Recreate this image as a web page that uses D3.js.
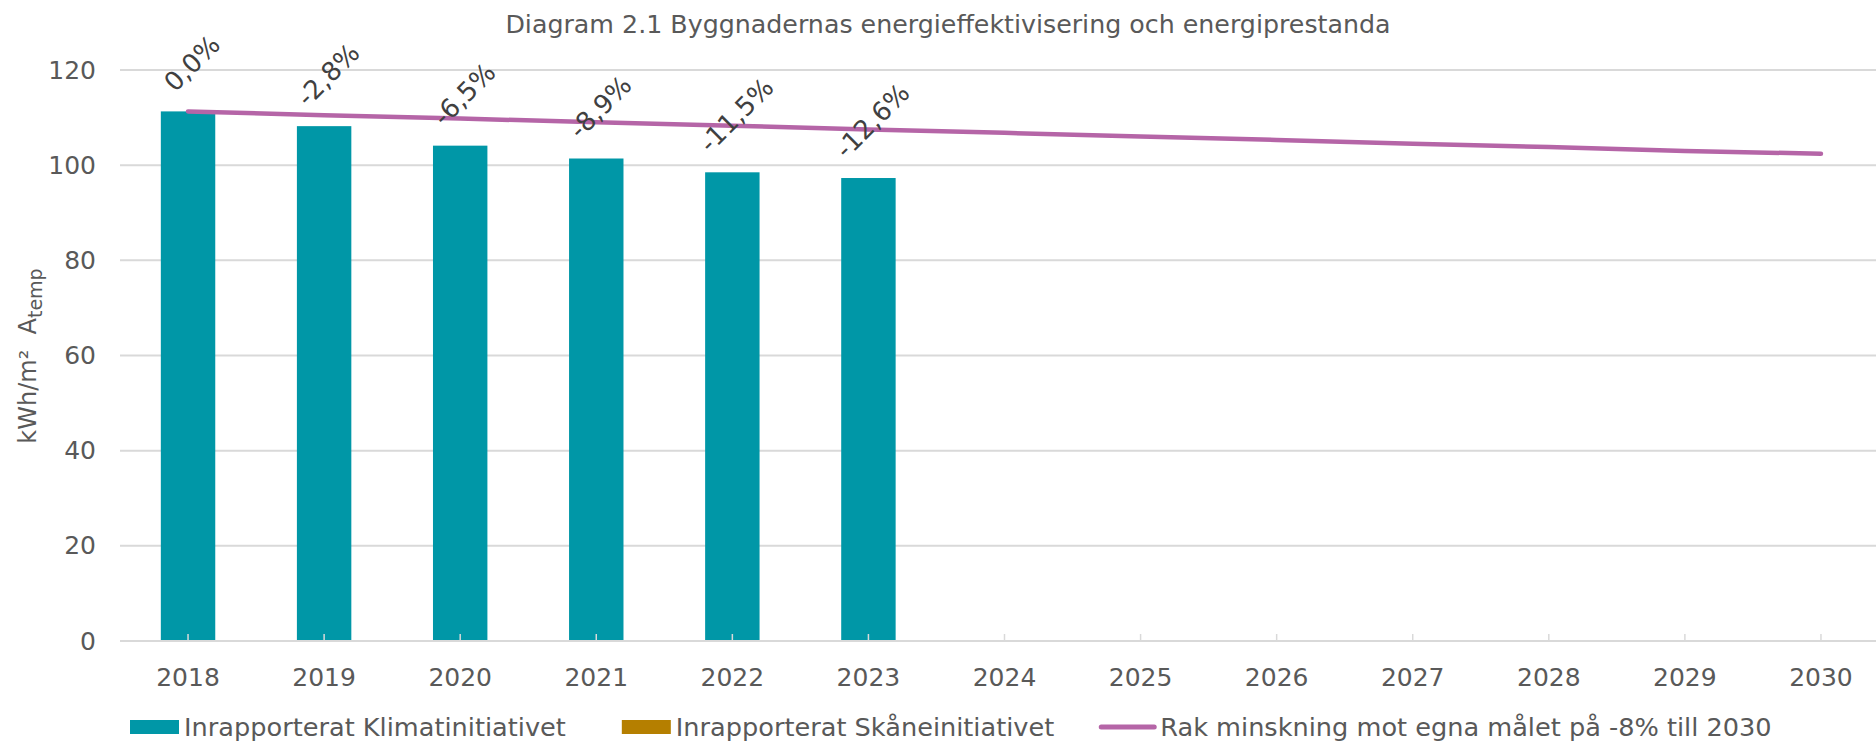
<!DOCTYPE html>
<html>
<head>
<meta charset="utf-8">
<script src="https://cdn.jsdelivr.net/npm/d3@7"></script>
<style>
	body { margin: 0; background: #ffffff; }
	text { font-family: "DejaVu Sans", Verdana, sans-serif; }
</style>
</head>
<body>
<script>
var years = ["2018", "2019", "2020", "2021", "2022", "2023", "2024", "2025", "2026", "2027", "2028", "2029", "2030"];
var klimatValues = [111.3, 108.2, 104.1, 101.4, 98.5, 97.3];
var skaneValues = [];
var targetLine = [111.3, 110.5, 109.8, 109.0, 108.3, 107.5, 106.8, 106.0, 105.3, 104.5, 103.8, 103.0, 102.4];
var changeLabels = ["0,0%", "-2,8%", "-6,5%", "-8,9%", "-11,5%", "-12,6%"];
var yTicks = [0, 20, 40, 60, 80, 100, 120];
var seriesNames = ["Inrapporterat Klimatinitiativet", "Inrapporterat Skåneinitiativet", "Rak minskning mot egna målet på -8% till 2030"];

var W = 1876, H = 742;
var margin = { top: 70, right: -13, bottom: 101, left: 120 };
var width = W - margin.left - margin.right,
	height = H - margin.top - margin.bottom;

var tealColor = "#0097a7",
	ochreColor = "#b57f00",
	purpleColor = "#b565a7",
	gridColor = "#d9d9d9",
	textColor = "#595959";

var svg = d3.select("body").append("svg")
	.attr("width", W)
	.attr("height", H);

var g = svg.append("g")
	.attr("transform", "translate(" + margin.left + "," + margin.top + ")");

var xScale = d3.scaleBand()
	.domain(years)
	.range([0, width])
	.paddingInner(0)
	.paddingOuter(0);

var yScale = d3.scaleLinear()
	.domain([0, 120])
	.range([height, 0]);

// title
svg.append("text")
	.attr("x", 948)
	.attr("y", 33)
	.attr("text-anchor", "middle")
	.attr("fill", textColor)
	.style("font-size", "25.3px")
	.text("Diagram 2.1 Byggnadernas energieffektivisering och energiprestanda");

// gridlines
g.selectAll(".grid")
	.data(yTicks)
	.enter().append("line")
	.attr("class", "grid")
	.attr("x1", 0)
	.attr("x2", width)
	.attr("y1", function(d) { return yScale(d); })
	.attr("y2", function(d) { return yScale(d); })
	.attr("stroke", gridColor)
	.attr("stroke-width", 2);

// y axis labels
var yAxis = d3.axisLeft(yScale)
	.tickValues(yTicks)
	.tickSize(0)
	.tickPadding(24);

var yG = g.append("g").call(yAxis);
yG.select(".domain").remove();
yG.selectAll("text")
	.attr("fill", textColor)
	.style("font-size", "25px")
	.style("font-family", "'DejaVu Sans', Verdana, sans-serif");

// y axis title
var yTitle = svg.append("text")
	.attr("transform", "translate(36,356) rotate(-90)")
	.attr("text-anchor", "middle")
	.attr("fill", textColor)
	.style("font-size", "24px");
yTitle.append("tspan").text("kWh/m²\u00a0 A");
yTitle.append("tspan")
	.attr("dy", 6)
	.style("font-size", "19px")
	.text("temp");

// bars
var barW = xScale.bandwidth() * 0.4;
g.selectAll(".bar")
	.data(klimatValues)
	.enter().append("rect")
	.attr("class", "bar")
	.attr("x", function(d, i) { return xScale(years[i]) + (xScale.bandwidth() - barW) / 2; })
	.attr("y", function(d) { return yScale(d); })
	.attr("width", barW)
	.attr("height", function(d) { return height - yScale(d); })
	.attr("fill", tealColor);

// x axis baseline and ticks
g.append("line")
	.attr("x1", 0)
	.attr("x2", width)
	.attr("y1", height)
	.attr("y2", height)
	.attr("stroke", gridColor)
	.attr("stroke-width", 2);

g.selectAll(".xtick")
	.data(years)
	.enter().append("line")
	.attr("class", "xtick")
	.attr("x1", function(d) { return xScale(d) + xScale.bandwidth() / 2; })
	.attr("x2", function(d) { return xScale(d) + xScale.bandwidth() / 2; })
	.attr("y1", height)
	.attr("y2", height - 7)
	.attr("stroke", gridColor)
	.attr("stroke-width", 1.5);

g.selectAll(".xlabel")
	.data(years)
	.enter().append("text")
	.attr("class", "xlabel")
	.attr("x", function(d) { return xScale(d) + xScale.bandwidth() / 2; })
	.attr("y", height + 45)
	.attr("text-anchor", "middle")
	.attr("fill", textColor)
	.style("font-size", "25px")
	.text(function(d) { return d; });

// target line
var lineDraw = d3.line()
	.x(function(d, i) { return xScale(years[i]) + xScale.bandwidth() / 2; })
	.y(function(d) { return yScale(d); });

g.append("path")
	.datum(targetLine)
	.attr("fill", "none")
	.attr("stroke", purpleColor)
	.attr("stroke-width", 4.5)
	.attr("stroke-linecap", "round")
	.attr("stroke-linejoin", "round")
	.attr("d", lineDraw);

// percent labels, rotated above bars
g.selectAll(".pct")
	.data(changeLabels)
	.enter().append("text")
	.attr("class", "pct")
	.attr("text-anchor", "middle")
	.attr("dominant-baseline", "central")
	.attr("fill", "#404040")
	.style("font-size", "26px")
	.text(function(d) { return d; })
	.attr("transform", function(d, i) {
		var w = this.getComputedTextLength();
		var half = (w + 19) * 0.7071 / 2;
		var cx = xScale(years[i]) + xScale.bandwidth() / 2 + 4;
		var cy = yScale(klimatValues[i]) - 18 - half;
		return "translate(" + cx + "," + cy + ") rotate(-45)";
	});

// legend
var legendGaps = [56, 44, 0];
var legend = svg.append("g")
	.attr("transform", "translate(130,727)");
var lx = 0;
seriesNames.forEach(function(name, i) {
	var item = legend.append("g").attr("transform", "translate(" + lx + ",0)");
	if (i < 2) {
		item.append("rect")
			.attr("x", 0)
			.attr("y", -7)
			.attr("width", 49)
			.attr("height", 14)
			.attr("fill", i == 0 ? tealColor : ochreColor);
	} else {
		item.append("line")
			.attr("x1", 3)
			.attr("x2", 56)
			.attr("y1", 0)
			.attr("y2", 0)
			.attr("stroke", purpleColor)
			.attr("stroke-width", 5)
			.attr("stroke-linecap", "round");
	}
	var t = item.append("text")
		.attr("x", i < 2 ? 54 : 62)
		.attr("y", 9)
		.attr("fill", textColor)
		.style("font-size", "25.6px")
		.text(name);
	lx += (i < 2 ? 54 : 62) + t.node().getComputedTextLength() + legendGaps[i];
});
</script>
</body>
</html>
